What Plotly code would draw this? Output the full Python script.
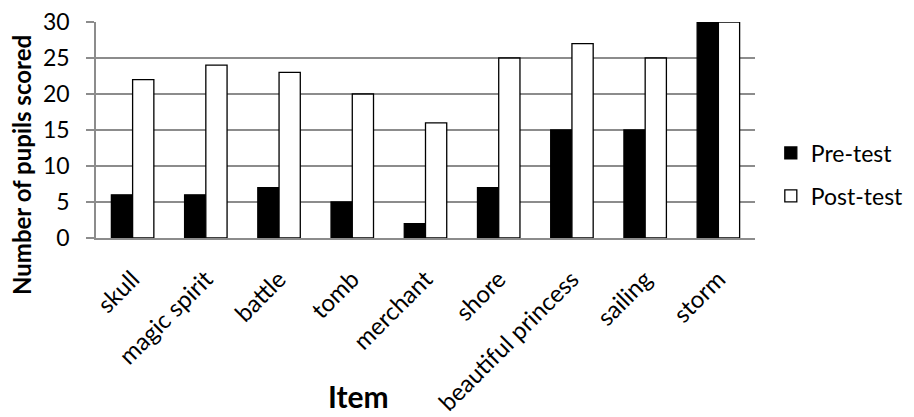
import plotly.graph_objects as go

items = ["skull", "magic spirit", "battle", "tomb", "merchant", "shore",
         "beautiful princess", "sailing", "storm"]
pre_test = [6, 6, 7, 5, 2, 7, 15, 15, 30]
post_test = [22, 24, 23, 20, 16, 25, 27, 25, 30]
y_ticks = [0, 5, 10, 15, 20, 25, 30]

FONT = "Lato"
GREY = "#8c8c8c"

fig = go.Figure()
fig.add_trace(go.Bar(x=items, y=pre_test, name="Pre-test", legendgroup="a",
                     marker=dict(color="black", line=dict(color="black", width=1.3))))
fig.add_trace(go.Bar(x=items, y=post_test, name="Post-test", legendgroup="b",
                     marker=dict(color="white", line=dict(color="black", width=1.3))))

fig.update_layout(
    width=914, height=417,
    margin=dict(l=88, r=167, t=14, b=187),
    paper_bgcolor="white", plot_bgcolor="white",
    font=dict(family=FONT, color="black", size=22),
    barmode="group", bargap=0.42, bargroupgap=0,
    showlegend=True,
    legend=dict(x=1.024, xanchor="left", y=0.294, yanchor="middle",
                font=dict(size=23, family=FONT), traceorder="grouped",
                tracegroupgap=10, itemwidth=30),
    xaxis=dict(tickangle=-45, showline=True, linecolor=GREY, linewidth=1.5,
               tickfont=dict(size=24, family=FONT), ticks="",
               ticklabelstandoff=16, automargin=False, ticklabeloverflow="allow"),
    yaxis=dict(range=[0, 30], tickvals=y_ticks, showgrid=True, gridcolor=GREY, gridwidth=1.5,
               showline=True, linecolor=GREY, linewidth=1.5,
               ticks="outside", ticklen=8, tickcolor=GREY, tickwidth=1.5,
               tickfont=dict(size=23, family=FONT), zeroline=False,
               ticklabelstandoff=12, automargin=False, ticklabeloverflow="allow"),
    annotations=[
        dict(text="<b>Number of pupils scored</b>", textangle=-90,
             xref="paper", yref="paper", x=-0.1123, y=0.338,
             xanchor="center", yanchor="middle", showarrow=False,
             font=dict(size=24, family=FONT)),
        dict(text="<b>Item</b>", xref="paper", yref="paper", x=0.399, y=-0.73,
             xanchor="center", yanchor="middle", showarrow=False,
             font=dict(size=30, family=FONT)),
    ],
)

fig.write_html("out.html")
